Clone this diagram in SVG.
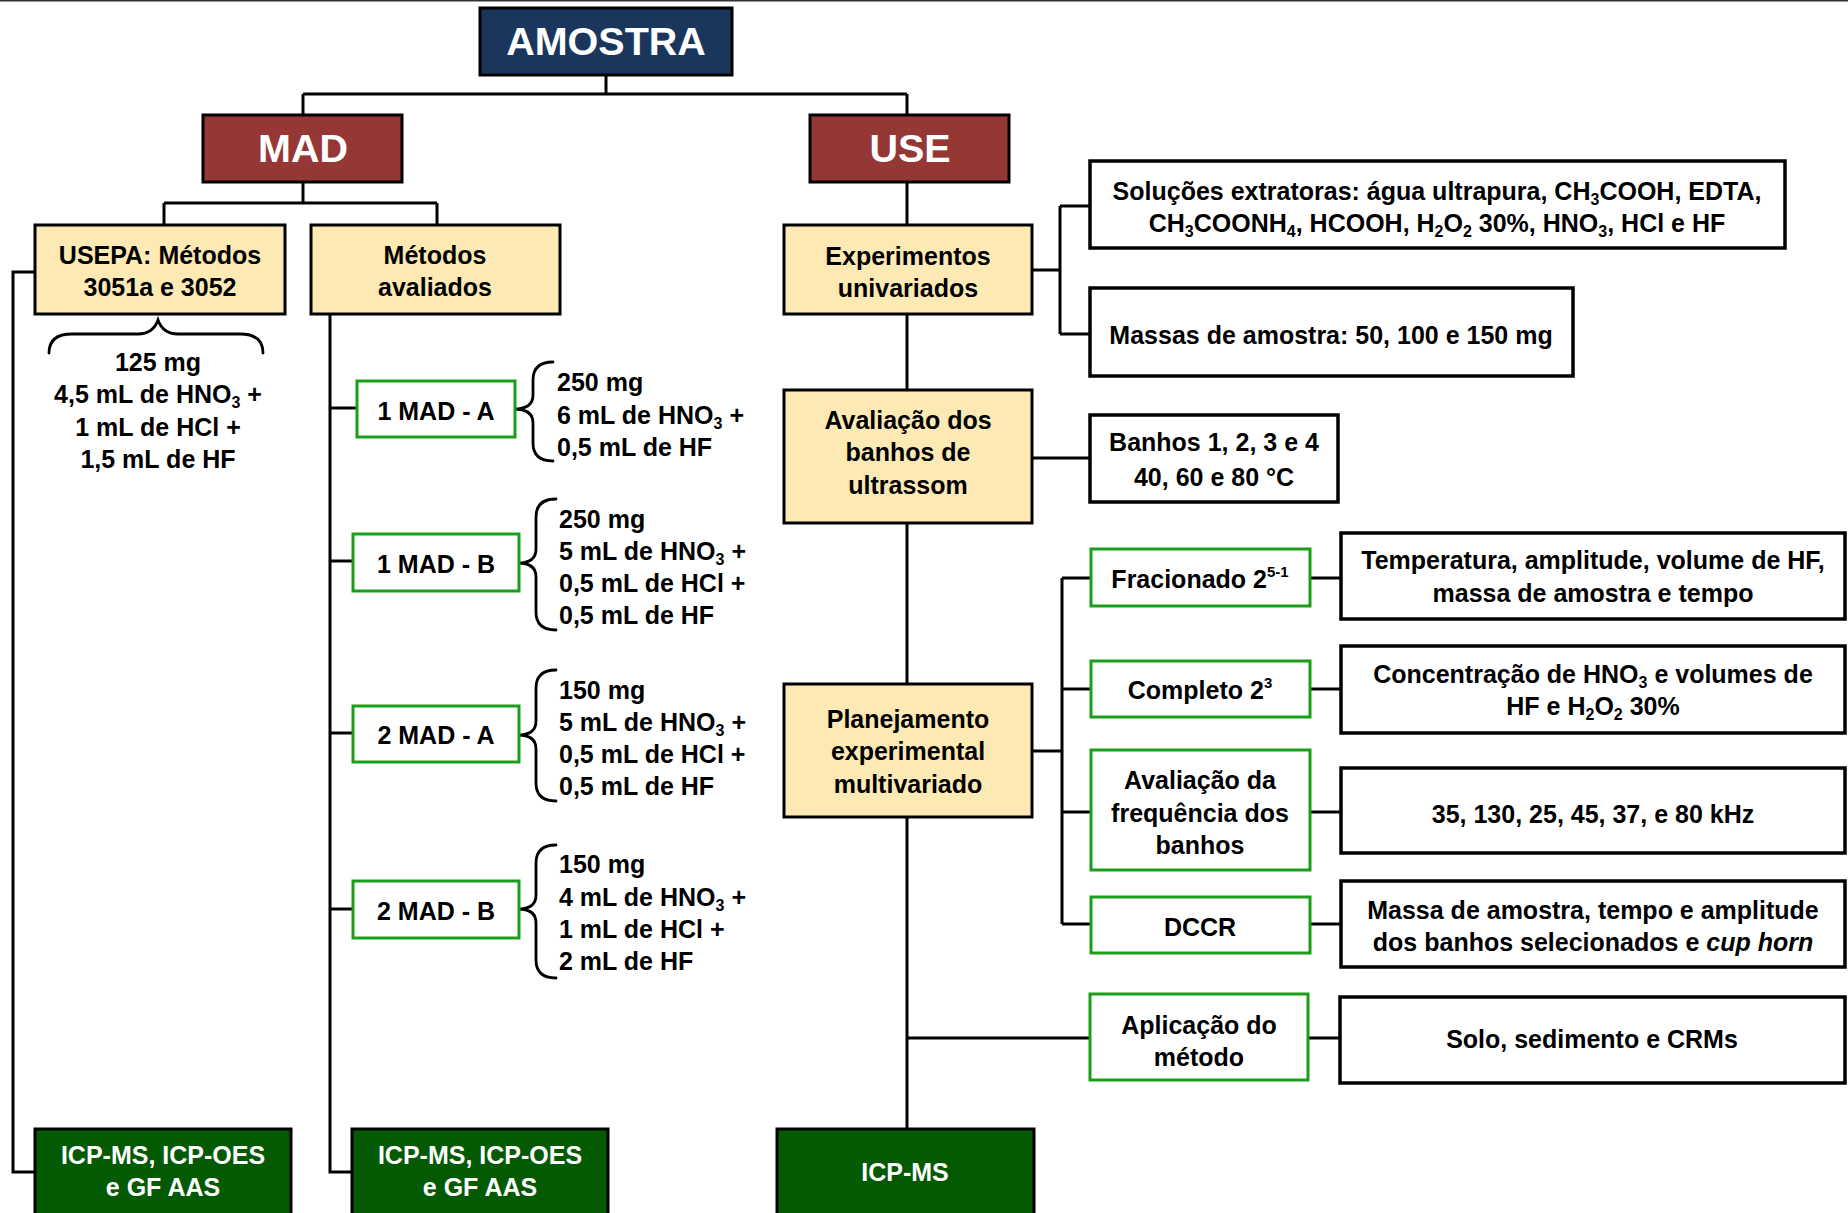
<svg xmlns="http://www.w3.org/2000/svg" width="1848" height="1213" viewBox="0 0 1848 1213">
<style>
text{font-family:"Liberation Sans",Arial,sans-serif;font-weight:bold;font-size:25px;fill:#000}
.c{text-anchor:middle}
.hd{font-size:39.5px;fill:#fff}
.wt{fill:#fff}
.navy{fill:#1b365d;stroke:#000;stroke-width:3}
.red{fill:#953735;stroke:#000;stroke-width:3}
.yel{fill:#fde9b4;stroke:#000;stroke-width:3}
.grn{fill:#fff;stroke:#1a9e1a;stroke-width:3}
.wht{fill:#fff;stroke:#000;stroke-width:3.5}
.dg{fill:#035a03;stroke:#000;stroke-width:3}
.ln{fill:none;stroke:#000;stroke-width:3}
.br{fill:none;stroke:#000;stroke-width:2.8;stroke-linecap:round}
.s{font-size:16px}
.sp{font-size:15px}
</style>
<line x1="0" y1="0.75" x2="1848" y2="0.75" stroke="#333" stroke-width="1.5"/>
<g id="connectors" class="ln">
<path d="M606,75 V94 M303,94 H907 M303,94 V115 M907,94 V115"/>
<path d="M303,182 V203 M164,203 H437 M164,203 V225 M437,203 V225"/>
<path d="M35,272 H13 V1172 H35"/>
<path d="M330,314 V1172 H352 M330,408 H357 M330,561 H353 M330,733 H353 M330,909 H353"/>
<path d="M907,182 V1129"/>
<path d="M1032,270 H1060 M1060,206 V334 M1060,206 H1090 M1060,334 H1090"/>
<path d="M1032,458 H1090"/>
<path d="M1032,751 H1062 M1062,578 V924 M1062,578 H1091 M1062,689 H1091 M1062,812 H1091 M1062,924 H1091"/>
<path d="M1310,578 H1341 M1310,689 H1341 M1310,812 H1341 M1310,924 H1341"/>
<path d="M907,1038 H1090 M1308,1038 H1340"/>
</g>
<g id="braces" class="br">
<path d="M49,353 Q49,334 72,334 L138,334 Q153,334 158,320 Q163,334 178,334 L240,334 Q263,334 263,353"/>
<path d="M553,362 Q533,362 533,380 L533,395 Q533,409 514,409 Q533,409 533,423 L533,443 Q533,461 553,461"/>
<path d="M556,499 Q536,499 536,517 L536,549 Q536,563 518,563 Q536,563 536,577 L536,612 Q536,630 556,630"/>
<path d="M556,670 Q536,670 536,688 L536,721 Q536,735 518,735 Q536,735 536,749 L536,783 Q536,801 556,801"/>
<path d="M556,845 Q536,845 536,863 L536,895 Q536,909 518,909 Q536,909 536,923 L536,960 Q536,978 556,978"/>
</g>
<g id="amostra"><rect class="navy" x="480" y="8" width="252" height="67"/><text class="c hd" x="606" y="55">AMOSTRA</text></g>
<g id="mad"><rect class="red" x="203" y="115" width="199" height="67"/><text class="c hd" x="303" y="162">MAD</text></g>
<g id="use"><rect class="red" x="810" y="115" width="199" height="67"/><text class="c hd" x="910" y="162">USE</text></g>
<g id="usepa"><rect class="yel" x="35" y="225" width="250" height="89"/><text class="c" x="160" y="264">USEPA: Métodos</text><text class="c" x="160" y="296">3051a e 3052</text></g>
<g id="metodos"><rect class="yel" x="311" y="225" width="249" height="89"/><text class="c" x="435" y="264">Métodos</text><text class="c" x="435" y="296">avaliados</text></g>
<g id="usepa-mix"><text class="c" x="158" y="371">125 mg</text><text class="c" x="158" y="403">4,5 mL de HNO<tspan class="s" dy="5">3</tspan><tspan dy="-5"> +</tspan></text><text class="c" x="158" y="436">1 mL de HCl +</text><text class="c" x="158" y="468">1,5 mL de HF</text></g>
<g id="mad1a"><rect class="grn" x="357" y="381" width="158" height="56"/><text class="c" x="436" y="420">1 MAD - A</text></g>
<g id="mad1a-mix"><text x="557" y="391">250 mg</text><text x="557" y="424">6 mL de HNO<tspan class="s" dy="5">3</tspan><tspan dy="-5"> +</tspan></text><text x="557" y="456">0,5 mL de HF</text></g>
<g id="mad1b"><rect class="grn" x="353" y="534" width="166" height="57"/><text class="c" x="436" y="573">1 MAD - B</text></g>
<g id="mad1b-mix"><text x="559" y="528">250 mg</text><text x="559" y="560">5 mL de HNO<tspan class="s" dy="5">3</tspan><tspan dy="-5"> +</tspan></text><text x="559" y="592">0,5 mL de HCl +</text><text x="559" y="624">0,5 mL de HF</text></g>
<g id="mad2a"><rect class="grn" x="353" y="706" width="166" height="56"/><text class="c" x="436" y="744">2 MAD - A</text></g>
<g id="mad2a-mix"><text x="559" y="699">150 mg</text><text x="559" y="731">5 mL de HNO<tspan class="s" dy="5">3</tspan><tspan dy="-5"> +</tspan></text><text x="559" y="763">0,5 mL de HCl +</text><text x="559" y="795">0,5 mL de HF</text></g>
<g id="mad2b"><rect class="grn" x="353" y="881" width="166" height="57"/><text class="c" x="436" y="920">2 MAD - B</text></g>
<g id="mad2b-mix"><text x="559" y="873">150 mg</text><text x="559" y="906">4 mL de HNO<tspan class="s" dy="5">3</tspan><tspan dy="-5"> +</tspan></text><text x="559" y="938">1 mL de HCl +</text><text x="559" y="970">2 mL de HF</text></g>
<g id="icp1"><rect class="dg" x="35" y="1129" width="256" height="86"/><text class="c wt" x="163" y="1164">ICP-MS, ICP-OES</text><text class="c wt" x="163" y="1196">e GF AAS</text></g>
<g id="icp2"><rect class="dg" x="352" y="1129" width="256" height="86"/><text class="c wt" x="480" y="1164">ICP-MS, ICP-OES</text><text class="c wt" x="480" y="1196">e GF AAS</text></g>
<g id="icp3"><rect class="dg" x="777" y="1129" width="257" height="86"/><text class="c wt" x="905" y="1181">ICP-MS</text></g>
<g id="experimentos"><rect class="yel" x="784" y="225" width="248" height="89"/><text class="c" x="908" y="265">Experimentos</text><text class="c" x="908" y="297">univariados</text></g>
<g id="solucoes"><rect class="wht" x="1090" y="161" width="695" height="87"/><text class="c" x="1437" y="200">Soluções extratoras: água ultrapura, CH<tspan class="s" dy="5">3</tspan><tspan dy="-5">COOH, EDTA,</tspan></text><text class="c" x="1437" y="232">CH<tspan class="s" dy="5">3</tspan><tspan dy="-5">COONH</tspan><tspan class="s" dy="5">4</tspan><tspan dy="-5">, HCOOH, H</tspan><tspan class="s" dy="5">2</tspan><tspan dy="-5">O</tspan><tspan class="s" dy="5">2</tspan><tspan dy="-5"> 30%, HNO</tspan><tspan class="s" dy="5">3</tspan><tspan dy="-5">, HCl e HF</tspan></text></g>
<g id="massas"><rect class="wht" x="1090" y="288" width="483" height="88"/><text class="c" x="1331" y="344">Massas de amostra: 50, 100 e 150 mg</text></g>
<g id="avaliacao-banhos"><rect class="yel" x="784" y="390" width="248" height="133"/><text class="c" x="908" y="429">Avaliação dos</text><text class="c" x="908" y="461">banhos de</text><text class="c" x="908" y="494">ultrassom</text></g>
<g id="banhos"><rect class="wht" x="1090" y="415" width="248" height="87"/><text class="c" x="1214" y="451">Banhos 1, 2, 3 e 4</text><text class="c" x="1214" y="486">40, 60 e 80 °C</text></g>
<g id="planejamento"><rect class="yel" x="784" y="684" width="248" height="133"/><text class="c" x="908" y="728">Planejamento</text><text class="c" x="908" y="760">experimental</text><text class="c" x="908" y="793">multivariado</text></g>
<g id="fracionado"><rect class="grn" x="1091" y="549" width="219" height="57"/><text class="c" x="1200" y="588">Fracionado 2<tspan class="sp" dy="-11">5-1</tspan></text></g>
<g id="completo"><rect class="grn" x="1091" y="661" width="219" height="56"/><text class="c" x="1200" y="699">Completo 2<tspan class="sp" dy="-11">3</tspan></text></g>
<g id="frequencia"><rect class="grn" x="1091" y="750" width="219" height="120"/><text class="c" x="1200" y="789">Avaliação da</text><text class="c" x="1200" y="822">frequência dos</text><text class="c" x="1200" y="854">banhos</text></g>
<g id="dccr"><rect class="grn" x="1091" y="897" width="219" height="56"/><text class="c" x="1200" y="936">DCCR</text></g>
<g id="aplicacao"><rect class="grn" x="1090" y="994" width="218" height="86"/><text class="c" x="1199" y="1034">Aplicação do</text><text class="c" x="1199" y="1066">método</text></g>
<g id="temperatura"><rect class="wht" x="1341" y="533" width="504" height="86"/><text class="c" x="1593" y="569">Temperatura, amplitude, volume de HF,</text><text class="c" x="1593" y="602">massa de amostra e tempo</text></g>
<g id="concentracao"><rect class="wht" x="1341" y="646" width="504" height="87"/><text class="c" x="1593" y="683">Concentração de HNO<tspan class="s" dy="5">3</tspan><tspan dy="-5"> e volumes de</tspan></text><text class="c" x="1593" y="715">HF e H<tspan class="s" dy="5">2</tspan><tspan dy="-5">O</tspan><tspan class="s" dy="5">2</tspan><tspan dy="-5"> 30%</tspan></text></g>
<g id="frequencias"><rect class="wht" x="1341" y="768" width="504" height="85"/><text class="c" x="1593" y="823">35, 130, 25, 45, 37, e 80 kHz</text></g>
<g id="massa-tempo"><rect class="wht" x="1341" y="881" width="504" height="86"/><text class="c" x="1593" y="919">Massa de amostra, tempo e amplitude</text><text class="c" x="1593" y="951">dos banhos selecionados e <tspan font-style="italic">cup horn</tspan></text></g>
<g id="solo"><rect class="wht" x="1340" y="997" width="505" height="86"/><text class="c" x="1592" y="1048">Solo, sedimento e CRMs</text></g>
</svg>
